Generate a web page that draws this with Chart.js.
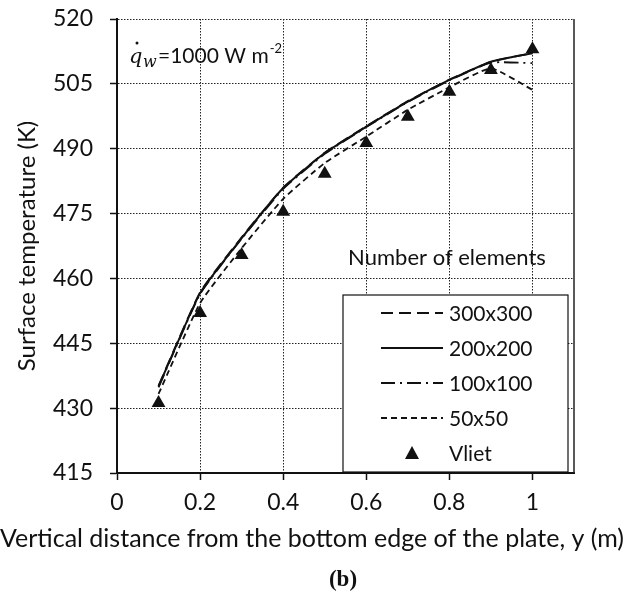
<html>
  <head>
    <script src="https://cdn.jsdelivr.net/npm/chart.js@4"></script>
    <style>
      body { margin: 0; background: #fff; }
      #wrap { width: 624px; height: 593px; }
    </style>
  </head>
  <body>
    <div id="wrap"><canvas id="myChart"></canvas></div>

    <script>
      // y position along the plate (m)
      var yPos = [0.1, 0.2, 0.3, 0.4, 0.5, 0.6, 0.7, 0.8, 0.9, 1.0];
      // surface temperature (K) per mesh
      var mesh300 = [435.2, 456.8, 469.5, 481.0, 489.1, 495.2, 501.0, 506.0, 510.1, 512.1];
      var mesh200 = [435.0, 456.6, 469.3, 480.9, 489.0, 495.1, 500.9, 505.9, 510.1, 512.1];
      var mesh100 = [434.8, 456.4, 469.2, 480.7, 488.8, 495.0, 500.8, 505.8, 509.9, 509.8];
      var mesh50 = [433.3, 454.3, 467.0, 478.4, 486.7, 492.8, 499.0, 504.2, 508.6, 503.6];
      var vliet = [431.2, 452.0, 465.4, 475.4, 484.2, 491.3, 497.4, 503.2, 508.2, 513.0];
      var yTicks = [415, 430, 445, 460, 475, 490, 505, 520];
      var xTicks = [0, 0.2, 0.4, 0.6, 0.8, 1];
      var xTitle = 'Vertical distance from the bottom edge of the plate, y (m)';

      var FONT = 'Lato';

      function pts(ys) {
        return yPos.map(function (x, i) { return { x: x, y: ys[i] }; });
      }

      // legend box + note text drawn on top of the plot
      var extras = {
        id: 'extras',
        afterDraw: function (chart) {
          var ctx = chart.ctx;
          var a = chart.chartArea;
          ctx.save();
          // right frame line
          ctx.strokeStyle = '#222';
          ctx.lineWidth = 1.5;
          ctx.beginPath();
          ctx.moveTo(a.right, a.top);
          ctx.lineTo(a.right, a.bottom);
          ctx.stroke();

          // q_w note
          ctx.fillStyle = '#111';
          ctx.textBaseline = 'alphabetic';
          ctx.font = 'italic 21px "DejaVu Serif"';
          ctx.fillText('q', 129, 63);
          ctx.beginPath();
          ctx.arc(137, 43, 1.5, 0, Math.PI * 2);
          ctx.fill();
          ctx.font = 'italic 16px "DejaVu Serif"';
          ctx.fillText('w', 143, 67);
          ctx.font = '21px ' + FONT;
          ctx.fillText('=1000 W m', 158, 63);
          var w = ctx.measureText('=1000 W m').width;
          ctx.font = '13px ' + FONT;
          ctx.fillText('-2', 158 + w + 1, 53);

          // legend
          ctx.font = '22px ' + FONT;
          ctx.textAlign = 'center';
          ctx.textBaseline = 'middle';
          ctx.fillText('Number of elements', 447, 258);

          var bx = 343, by = 295, bw = 225, bh = 177;
          ctx.fillStyle = '#fff';
          ctx.fillRect(bx, by, bw, bh);
          ctx.strokeStyle = '#111';
          ctx.lineWidth = 1.2;
          ctx.strokeRect(bx, by, bw, bh);

          ctx.textAlign = 'left';
          ctx.font = '21px ' + FONT;
          chart.data.datasets.forEach(function (ds, i) {
            var ry = by + 18 + i * 35;
            ctx.strokeStyle = '#111';
            ctx.fillStyle = '#111';
            if (ds.showLine === false) {
              ctx.beginPath();
              ctx.moveTo(412, ry - 7);
              ctx.lineTo(419, ry + 6);
              ctx.lineTo(405, ry + 6);
              ctx.closePath();
              ctx.fill();
            } else {
              ctx.lineWidth = ds.borderWidth;
              ctx.setLineDash(ds.borderDash || []);
              ctx.beginPath();
              ctx.moveTo(381, ry);
              ctx.lineTo(443, ry);
              ctx.stroke();
              ctx.setLineDash([]);
            }
            ctx.fillText(ds.label, 449, ry + 1);
          });
          ctx.restore();

          // x title (wider than the plot, so drawn here) and caption
          ctx.save();
          ctx.fillStyle = '#111';
          ctx.textAlign = 'center';
          ctx.textBaseline = 'middle';
          ctx.font = '25px ' + FONT;
          ctx.fillText(xTitle, 312, 539);
          ctx.font = 'bold 23px "Liberation Serif"';
          ctx.fillText('(b)', 343, 580);
          ctx.restore();
        }
      };

      function lineSet(label, data, dash, width) {
        return {
          label: label,
          data: pts(data),
          borderColor: '#111',
          backgroundColor: '#111',
          borderWidth: width,
          borderDash: dash,
          pointRadius: 0,
          fill: false,
          tension: 0.15
        };
      }

      function noPad(s) {
        s.paddingTop = 0;
        s.paddingBottom = 0;
        s.paddingLeft = 0;
        s.paddingRight = 0;
      }

      var ctx = document.getElementById('myChart').getContext('2d');
      var chart = new Chart(ctx, {
        type: 'scatter',
        data: {
          datasets: [
            lineSet('300x300', mesh300, [12, 6], 1.8),
            lineSet('200x200', mesh200, [], 2),
            lineSet('100x100', mesh100, [14, 5, 2, 5], 1.8),
            lineSet('50x50', mesh50, [6, 4], 1.8),
            {
              label: 'Vliet',
              data: pts(vliet),
              showLine: false,
              pointStyle: 'triangle',
              pointRadius: 8,
              pointBackgroundColor: '#111',
              pointBorderColor: '#111',
              pointBorderWidth: 0
            }
          ].map(function (d) { d.showLine = d.showLine !== false; return d; })
        },
        options: {
          responsive: true,
          maintainAspectRatio: false,
          animation: false,
          layout: { padding: { top: 19, right: 50, left: 0, bottom: 0 } },
          plugins: {
            legend: { display: false },
            tooltip: { enabled: false }
          },
          scales: {
            x: {
              type: 'linear',
              min: 0,
              max: 1.1,
              afterFit: function (s) { s.height = 120; noPad(s); },
              afterBuildTicks: function (s) {
                s.ticks = xTicks.map(function (v) { return { value: v }; });
              },
              ticks: {
                color: '#111',
                font: { family: FONT, size: 23 },
                padding: 9,
                maxRotation: 0,
                callback: function (v) { return String(Math.round(v * 10) / 10); }
              },
              grid: {
                color: '#222',
                lineWidth: 1,
                drawTicks: true,
                tickLength: 7,
                tickColor: '#111',
                tickWidth: 1.5
              },
              border: { display: true, color: '#111', width: 2, dash: [1.5, 1.5] }
            },
            y: {
              min: 415,
              max: 520,
              afterFit: function (s) { s.width = 117; noPad(s); },
              afterBuildTicks: function (s) {
                s.ticks = yTicks.map(function (v) { return { value: v }; });
              },
              ticks: {
                color: '#111',
                font: { family: FONT, size: 23 },
                padding: 17
              },
              grid: {
                color: '#222',
                lineWidth: 1,
                drawTicks: true,
                tickLength: 7,
                tickColor: '#111',
                tickWidth: 1.5
              },
              border: { display: true, color: '#111', width: 2, dash: [1.5, 1.5] },
              title: {
                display: true,
                text: 'Surface temperature (K)',
                color: '#111',
                font: { family: FONT, size: 24 },
                padding: { top: 13, bottom: 0 }
              }
            }
          }
        },
        plugins: [extras]
      });
    </script>
  </body>
</html>
